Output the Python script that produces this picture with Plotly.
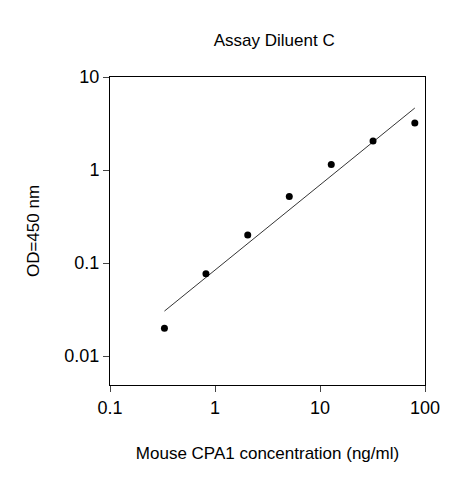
import plotly.graph_objects as go

conc = [0.33, 0.82, 2.05, 5.1, 12.8, 32, 80]
od = [0.020, 0.077, 0.20, 0.52, 1.15, 2.05, 3.2]
fit_x = [0.33, 80]
fit_y = [0.0305, 4.64]

fig = go.Figure()
fig.add_trace(go.Scatter(x=fit_x, y=fit_y, mode="lines", line=dict(color="black", width=0.8), showlegend=False))
fig.add_trace(go.Scatter(x=conc, y=od, mode="markers", marker=dict(color="black", size=7), showlegend=False))
fig.update_layout(
    width=463, height=480, margin=dict(l=102, r=46, t=69, b=103),
    plot_bgcolor="white", paper_bgcolor="white",
    font=dict(family="Liberation Sans, Arial", size=18, color="black"),
    title=dict(text="Assay Diluent C", x=0.575, xanchor="center", y=0.945, font=dict(size=17)),
)
fig.update_xaxes(type="log", range=[-1, 2], tickvals=[0.1, 1, 10, 100], ticktext=["0.1", "1", "10", "100"],
                 ticks="outside", ticklen=6, showline=True, linecolor="black", mirror=True, showgrid=False,
                 zeroline=False, title=dict(text="Mouse CPA1 concentration (ng/ml)", standoff=30, font=dict(size=17)))
fig.update_yaxes(type="log", range=[-2.31, 1], tickvals=[0.01, 0.1, 1, 10], ticktext=["0.01", "0.1", "1", "10"],
                 ticks="outside", ticklen=6, showline=True, linecolor="black", mirror=True, showgrid=False,
                 zeroline=False, title=dict(text="OD=450 nm", standoff=20, font=dict(size=17)))
fig.write_html("out.html")
